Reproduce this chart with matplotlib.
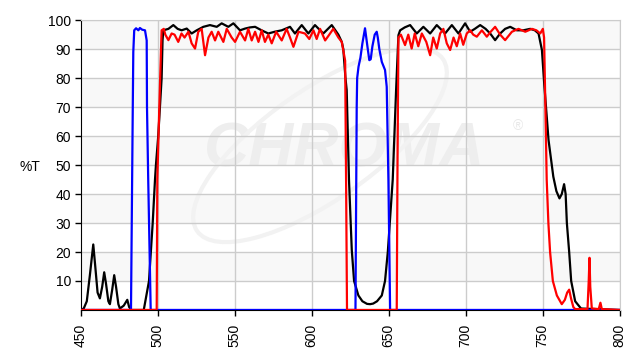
import matplotlib
matplotlib.use("Agg")
import matplotlib.pyplot as plt
import numpy as np
from matplotlib.patches import Ellipse
from matplotlib.transforms import IdentityTransform

plt.rcParams['font.family'] = ['Liberation Sans', 'DejaVu Sans']

# (wavelength nm, %T)
black = [(450, 0), (452, 0.5), (454, 3), (456, 12), (458.2, 22.6), (459.5, 15), (461, 6),
         (462.5, 4), (464, 8), (465.3, 13), (466.5, 9), (468, 3), (469, 2), (470.5, 7),
         (471.8, 12), (473, 8), (474.5, 2), (475.5, 0.5), (478, 1.5), (480.3, 3.5), (481.5, 1),
         (483, 0), (491, 0), (494.4, 10), (496.8, 30), (498.3, 45), (498.9, 50), (500.4, 60),
         (502.6, 80), (503.2, 93), (503.7, 96.5), (507, 97), (510.2, 98.3), (513, 97),
         (515.6, 96.5), (518.9, 97.1), (522.1, 95.4), (525.4, 96.5), (529.7, 97.7), (534, 98.3),
         (538.4, 97.7), (541.6, 98.9), (545.9, 97.7), (549.2, 98.9), (553.5, 96.5), (556.8, 97.1),
         (560, 97.5), (563.3, 97.7), (567.5, 96.5), (571.9, 95.4), (576, 96), (580.6, 96.5),
         (586, 97.7), (589.2, 95.4), (593.6, 98.3), (597.9, 95.4), (602.2, 98.3), (607.6, 95.4),
         (613.1, 98.3), (617.4, 95), (619.6, 92.5), (620.6, 90), (622, 80), (622.8, 75.9),
         (624.3, 44.8), (626.1, 20.7), (627.6, 10), (630.4, 5), (633, 3), (636, 2.1), (638, 2),
         (640, 2.2), (642.5, 3), (645.6, 5), (647.7, 10), (649.5, 20), (652.7, 45), (654.9, 76),
         (656.4, 94.8), (657.5, 96.5), (660.5, 97.5), (664, 98.3), (668.3, 95.4), (672.6, 97.7),
         (677, 95.4), (681.3, 98.3), (686.7, 95.4), (691.1, 98.3), (695.4, 95.4), (699.7, 98.9),
         (703, 96), (706, 97), (709.5, 98.3), (713, 97), (716, 95.4), (719.2, 93.1), (722.5, 95.4),
         (725.7, 97), (729, 97.7), (733.3, 96.5), (737.5, 96.5), (742, 97), (745, 96.5),
         (747.4, 95.4), (749.6, 89.7), (751.1, 78), (753.9, 58.6), (757, 46), (759, 41),
         (761, 38.5), (762.5, 40), (764, 43.4), (765, 40), (765.8, 30), (767.3, 20), (768.6, 10),
         (771.2, 3), (775, 0.5), (800, 0)]

red = [(450, 0), (499.4, 0), (499.8, 45), (501.1, 70), (502.2, 90), (502.6, 96.5), (504, 97),
       (505, 95), (507, 93.1), (509.1, 95.4), (511, 95), (513.4, 92.5), (515.5, 95.4), (517.5, 94),
       (520, 96), (522.1, 92), (524.3, 90.2), (526.4, 96), (528.6, 97), (530.8, 87.9), (533, 94),
       (535.1, 96), (537.3, 93), (539.4, 96), (542.7, 92.5), (544.9, 97), (548.1, 94),
       (550.3, 92.5), (553.5, 96), (556.8, 93), (558.9, 97), (561.1, 93), (563.3, 96),
       (565.5, 92.5), (567.6, 96.5), (569.7, 92.5), (571.9, 95), (574.1, 92), (577, 96),
       (580.6, 93), (583.8, 97), (586, 94), (588.2, 90.8), (591.5, 96), (595.7, 95.4),
       (598.5, 93.5), (601.2, 96.5), (603.3, 93.5), (605.5, 97), (608.8, 93), (611.5, 95),
       (614.1, 97), (617.4, 94), (619.6, 92.5), (621.8, 86), (622.4, 45), (623, 0), (655.3, 0),
       (655.8, 50), (656.4, 94), (658, 95), (660.7, 91.4), (662.8, 95), (665, 90.2), (667, 95.4),
       (669.3, 91), (671.6, 95.4), (674.5, 92.5), (677, 87.9), (679, 94), (681.3, 90.2),
       (683.5, 95.4), (685.6, 97), (687.8, 92), (690, 89.7), (692.2, 94), (694.3, 91),
       (696.5, 95.4), (698.5, 91.5), (700.8, 95.4), (703, 96.5), (705, 95), (707.3, 94.3),
       (710.6, 96.5), (713.8, 94.3), (716, 95.8), (719.2, 97.7), (722.5, 95), (725.7, 93.1),
       (730.1, 96), (734.4, 97), (738.8, 96), (743.1, 97), (746, 96.5), (748.5, 95.4),
       (750.2, 97), (751, 94), (752.2, 60), (752.7, 45), (753.8, 30), (754.9, 20), (756.7, 10),
       (759.3, 5), (762.5, 2), (764.5, 3.5), (766, 6), (767.3, 7), (768.5, 4), (770, 1),
       (771.2, 0.3), (779.2, 0.3), (780, 10), (780.5, 18), (781, 8), (782, 0.5), (786.5, 0.3),
       (787.6, 2.5), (788.5, 0.3), (800, 0)]

blue = [(450, 0), (482.7, 0), (483.8, 66.6), (484.2, 89), (484.8, 96.5), (486, 97.2),
        (487.5, 96.5), (488.5, 97.3), (490, 96.7), (491.8, 96.5), (492.9, 93), (493.1, 70),
        (493.9, 44.8), (495.5, 0), (628.5, 0), (629.3, 70), (629.6, 80), (630.5, 84),
        (631.7, 87), (633, 92), (634.7, 97.2), (635.5, 94), (636.5, 90), (637.5, 86.2),
        (638.4, 86.5), (639.5, 91), (641, 95), (642.3, 96), (643, 94), (644, 90), (645.6, 85.6),
        (647.7, 82.8), (648.8, 77), (649.9, 44.8), (651, 0), (800, 0)]

x_ticks = list(range(450, 801, 50))
y_ticks = list(range(10, 101, 10))

fig = plt.figure(figsize=(6.4, 3.6), dpi=100)
ax = fig.add_axes([0.126, 0.139, 0.842, 0.805])
ax.set_xlim(450, 800)
ax.set_ylim(0, 100)

# alternating bands + grid
for lo in range(10, 100, 20):
    ax.axhspan(lo, lo + 10, color='#f8f8f8', lw=0, zorder=0)
for v in y_ticks:
    ax.axhline(v, color='#cccccc', lw=1, zorder=1)
for v in x_ticks[1:]:
    ax.axvline(v, color='#cccccc', lw=1, zorder=1)

# faint logo watermark
ax.text((345 - 80.7) / 538.6, (310 - 150) / 290, 'CHROMA', transform=ax.transAxes,
        fontsize=45, fontweight='bold', fontstyle='italic', color='#eeeeee',
        ha='center', va='center', zorder=0.5)
ax.text((518 - 80.7) / 538.6, (310 - 126) / 290, '®', transform=ax.transAxes,
        fontsize=10, color='#e8e8e8', ha='center', va='center', zorder=0.5)
ax.add_patch(Ellipse((320, 215), 300, 110, angle=35, transform=IdentityTransform(),
                     fill=False, ec='#f2f2f2', lw=3, zorder=0.5, clip_on=True))

for data, col, z in [(black, 'black', 3), (blue, '#0000ff', 4), (red, '#ff0000', 5)]:
    wl, t = np.array(data).T
    ax.plot(wl, t, color=col, lw=1.6, zorder=z, solid_joinstyle='round')

for s in ['top', 'right']:
    ax.spines[s].set_color('#cccccc')
for s in ['left', 'bottom']:
    ax.spines[s].set_color('black')
    ax.spines[s].set_zorder(2)

ax.set_xticks(x_ticks)
ax.set_xticklabels([str(v) for v in x_ticks], rotation=90)
ax.set_yticks(y_ticks)
ax.tick_params(axis='y', direction='out', length=4, width=1, pad=3, labelsize=10)
ax.tick_params(axis='x', direction='out', length=4, width=1, pad=6, labelsize=10)

fig.text(30 / 640, 1 - 167 / 360, '%T', ha='center', va='center', fontsize=10)

fig.savefig('out.png', dpi=100)
